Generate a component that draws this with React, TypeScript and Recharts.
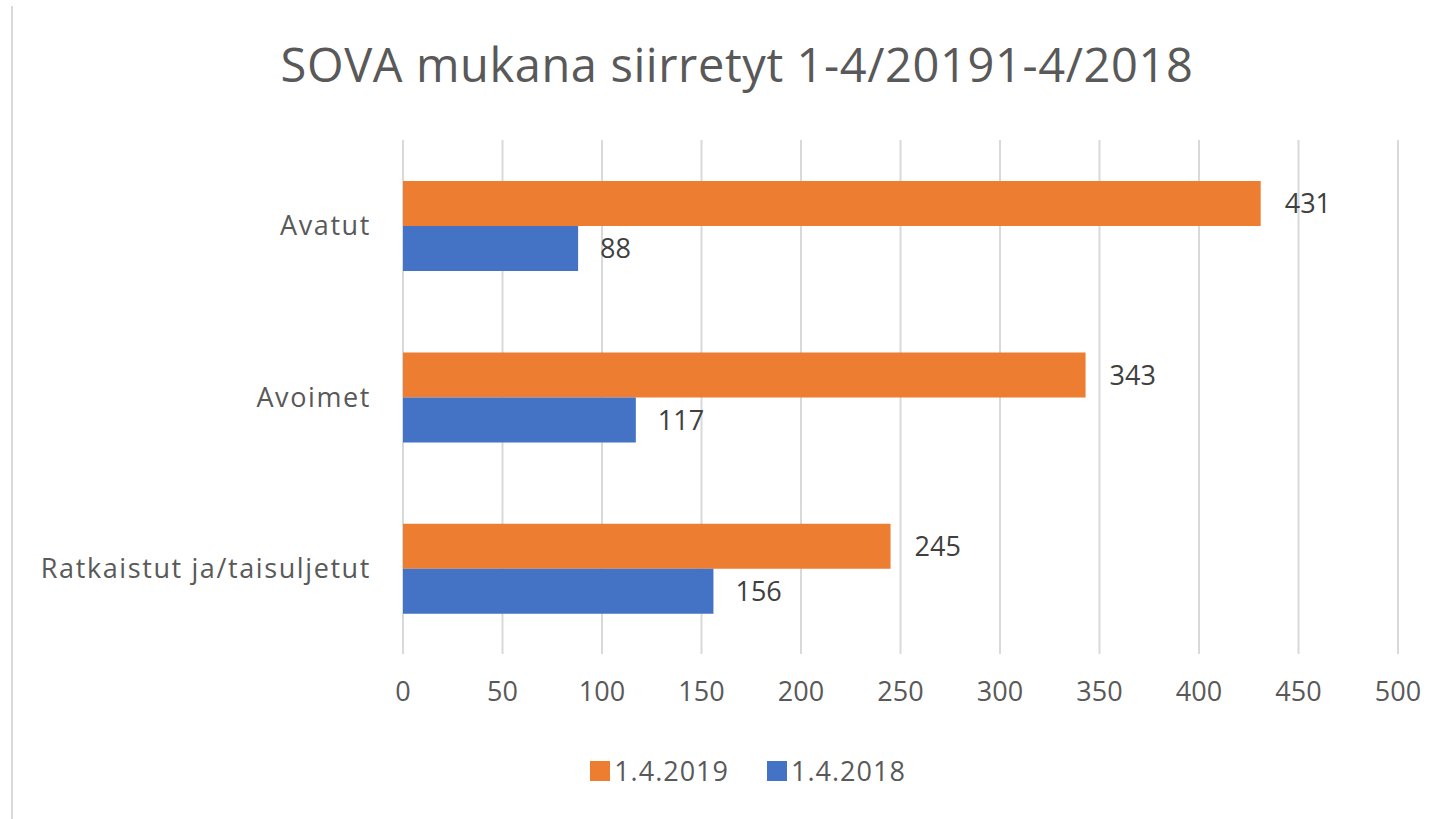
import { Bar, BarChart, CartesianGrid, LabelList, XAxis, YAxis } from 'recharts';

const categories = ['Avatut', 'Avoimet', 'Ratkaistut ja/taisuljetut'];
const values2019 = [431, 343, 245];
const values2018 = [88, 117, 156];
const xTicks = [0, 50, 100, 150, 200, 250, 300, 350, 400, 450, 500];
const seriesNames = ['1.4.2019', '1.4.2018'];
const seriesColors = ['#ED7D31', '#4472C4'];

const rows = categories.map((name, i) => ({
  name,
  y2019: values2019[i],
  y2018: values2018[i],
}));

const FONT = '"Open Sans", sans-serif';
const TEXT = '#595959';

function LegendBox() {
  return (
    <div
      style={{
        position: 'absolute',
        top: 752,
        left: 0,
        width: 1456,
        display: 'flex',
        justifyContent: 'center',
        paddingLeft: 78,
        boxSizing: 'border-box',
        fontSize: 27,
        letterSpacing: 1,
        color: TEXT,
      }}
    >
      {seriesNames.map((label, i) => (
        <div key={label} style={{ display: 'flex', alignItems: 'center', marginRight: 38 }}>
          <span style={{ width: 20, height: 20, background: seriesColors[i], display: 'inline-block', marginRight: 4 }} />
          <span>{label}</span>
        </div>
      ))}
    </div>
  );
}

export default function App() {
  return (
    <div style={{ position: 'absolute', left: 0, top: 0, width: 1456, height: 819, background: '#fff', fontFamily: FONT }}>
      <div style={{ position: 'absolute', left: 11, top: 6, width: 2, height: 813, background: '#d9d9d9' }} />
      <div
        style={{
          position: 'absolute',
          top: 32,
          left: 0,
          width: 1474,
          textAlign: 'center',
          fontSize: 47,
          letterSpacing: 0.6,
          color: TEXT,
          whiteSpace: 'nowrap',
        }}
      >
        SOVA mukana siirretyt 1-4/20191-4/2018
      </div>
      <BarChart
        width={1456}
        height={819}
        data={rows}
        layout="vertical"
        margin={{ top: 140, right: 58, bottom: 125, left: 0 }}
        barGap={0}
        barCategoryGap="24%"
      >
        <CartesianGrid horizontal={false} stroke="#d9d9d9" strokeWidth={2} />
        <XAxis
          type="number"
          domain={[0, 500]}
          ticks={xTicks}
          axisLine={false}
          tickLine={false}
          tickMargin={22}
          tick={{ fill: TEXT, fontSize: 27, fontFamily: FONT }}
          height={40}
        />
        <YAxis
          type="category"
          dataKey="name"
          axisLine={false}
          tickLine={false}
          width={403}
          tickMargin={26}
          tick={{ fill: TEXT, fontSize: 27, fontFamily: FONT, letterSpacing: 1.6 }}
        />
        <Bar dataKey="y2019" name={seriesNames[0]} fill={seriesColors[0]} isAnimationActive={false}>
          <LabelList dataKey="y2019" position="right" offset={24} fill="#404040" fontSize={27} fontFamily={FONT} />
        </Bar>
        <Bar dataKey="y2018" name={seriesNames[1]} fill={seriesColors[1]} isAnimationActive={false}>
          <LabelList dataKey="y2018" position="right" offset={22} fill="#404040" fontSize={27} fontFamily={FONT} />
        </Bar>
      </BarChart>
      <LegendBox />
    </div>
  );
}
